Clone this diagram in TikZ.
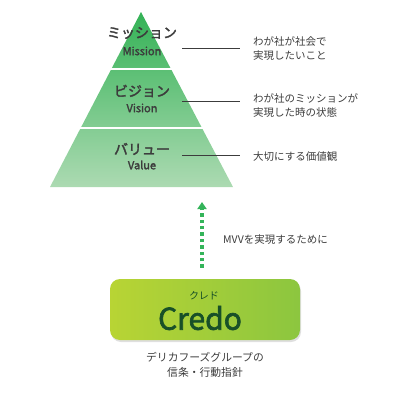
\documentclass[tikz,border=0pt]{standalone}
\usepackage{fontspec}
\usepackage{tikz}
\usepackage{xcolor}
\usetikzlibrary{shadows,arrows.meta}
\setmainfont{Noto Sans CJK JP}
\newfontfamily\jpbold{Noto Sans CJK JP}[FakeBold=2.2]
\definecolor{pyrtop}{RGB}{52,178,86}
\definecolor{pyrbottom}{RGB}{172,218,178}
\definecolor{credoleft}{RGB}{184,212,52}
\definecolor{credoright}{RGB}{140,198,63}
\definecolor{credotext}{RGB}{24,80,40}
\definecolor{arrowgreen}{RGB}{52,180,90}
\definecolor{softgray}{RGB}{60,60,60}

\tikzset{
    tiertitle/.style={text=softgray, font=\jpbold\fontsize{14}{16}\selectfont, inner sep=0pt},
    tiersub/.style={text=softgray, font=\jpbold\fontsize{11}{12}\selectfont, inner sep=0pt},
    leader/.style={draw=softgray, line width=0.8pt},
    note/.style={anchor=west, text=softgray, align=left, inner sep=0pt,
        font=\fontsize{10.5}{14}\selectfont}
}

\begin{document}
\begin{tikzpicture}[x=1pt, y=-1pt]
\useasboundingbox (0,0) rectangle (392,400);

% pyramid
\coordinate (apex) at (141,12);
\coordinate (baseL) at (50,187);
\coordinate (baseR) at (233,187);
\shade[top color=pyrtop, bottom color=pyrbottom] (apex) -- (baseR) -- (baseL) -- cycle;
\draw[white, line width=2.6pt] (108,69) -- (174,69);
\draw[white, line width=2.6pt] (77,128) -- (205,128);

\node[tiertitle] (mission) at (142,33) {ミッション};
\node[tiersub] (missionen) at (142,51) {Mission};
\node[tiertitle] (vision) at (142,91) {ビジョン};
\node[tiersub] (visionen) at (142,108) {Vision};
\node[tiertitle] (value) at (142,149) {バリュー};
\node[tiersub] (valueen) at (142,165) {Value};

% descriptions
\node[note] (missionnote) at (253,49) {わが社が社会で\\実現したいこと};
\node[note] (visionnote) at (253,106) {わが社のミッションが\\実現した時の状態};
\node[note] (valuenote) at (253,157) {大切にする価値観};

\coordinate (ml) at (182,48);
\coordinate (vl) at (182,101);
\coordinate (al) at (182,155);
\draw[leader] (ml) -- ++(58,0);
\draw[leader] (vl) -- ++(58,0);
\draw[leader] (al) -- ++(58,0);

% credo
\node[
    rounded corners=10pt,
    minimum width=190pt,
    minimum height=61pt,
    left color=credoleft,
    right color=credoright,
    drop shadow={shadow xshift=1pt, shadow yshift=-2pt, opacity=0.25, fill=gray},
    inner sep=0pt
] (credo) at (205,309.5) {};
\node[text=credotext, font=\fontsize{10}{11}\selectfont, inner sep=0pt] (credokana) at (204,296) {クレド};
\node[text=credotext, font=\jpbold\fontsize{30}{32}\selectfont, inner sep=0pt] (credoword) at (200,318) {Credo};

\node[text=softgray, align=center, inner sep=0pt,
    font=\fontsize{10.8}{15}\selectfont] (credonote) at (205,365) {デリカフーズグループの\\信条・行動指針};

% arrow
\coordinate (arrowtip) at (202,202);
\draw[arrowgreen, line width=3.4pt, dash pattern=on 3.4pt off 3pt,
    -{Triangle[width=9pt, length=7pt]}] (credo.north -| arrowtip) ++(0,-11) -- (arrowtip);
\node[anchor=west, text=softgray, inner sep=0pt, font=\fontsize{10.5}{12}\selectfont] (arrowlabel) at (223,240) {MVVを実現するために};
\end{tikzpicture}
\end{document}
